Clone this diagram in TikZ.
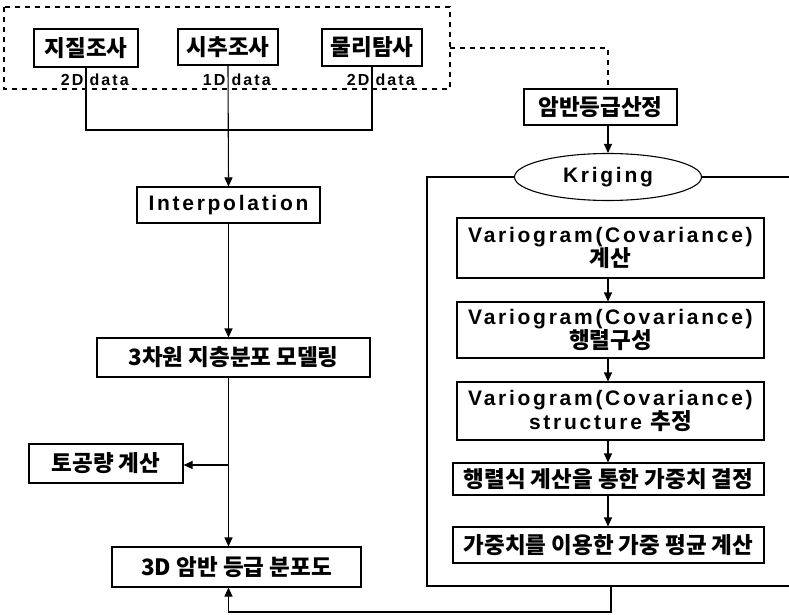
\documentclass[tikz,border=0pt]{standalone}
\usepackage{fontspec}
\setmainfont{Liberation Sans}[LetterSpace=13]
\newfontfamily\kr{Noto Sans CJK KR}
\newcommand\K[1]{{\kr\fontsize{22.5}{23}\selectfont #1}}
\usetikzlibrary{shapes.geometric,arrows.meta}
\begin{document}
\begin{tikzpicture}[x=1pt,y=-1pt,
  line width=1.1pt,
  box/.style={draw, rectangle, inner sep=0pt, align=center, font=\bfseries\fontsize{21}{23}\selectfont},
  small/.style={inner sep=0pt, font=\bfseries\fontsize{16}{18}\selectfont},
  arr/.style={-{Triangle[length=9pt,width=8pt]}},
  dashline/.style={line width=1.7pt, dash pattern=on 5pt off 5pt}]
\useasboundingbox (0,0) rectangle (789,615);

% top group
\draw[dashline] (4,7) rectangle (450,89);
\node[box, minimum width=104pt, minimum height=38pt] (jj) at (86,48) {\K{지질조사}};
\node[box, minimum width=100pt, minimum height=36pt] (sc) at (228,47) {\K{시추조사}};
\node[box, minimum width=100pt, minimum height=37pt] (mr) at (372,47.5) {\K{물리탐사}};
\node[small, anchor=east] (l1a) at (84,80) {2D};
\node[small, anchor=west] (l1b) at (89,80) {data};
\node[small, anchor=east] (l2a) at (226,80) {1D};
\node[small, anchor=west] (l2b) at (231,80) {data};
\node[small, anchor=east] (l3a) at (370,80) {2D};
\node[small, anchor=west] (l3b) at (375,80) {data};

% left column
\node[box, minimum width=183pt, minimum height=36pt] (ip) at (228.5,205) {Interpolation};
\node[box, minimum width=273pt, minimum height=39pt] (m3) at (233.5,357.5) {\K{3차원 지층분포 모델링}};
\node[box, minimum width=154pt, minimum height=39pt] (tg) at (106,463.5) {\K{토공량 계산}};
\node[box, minimum width=249pt, minimum height=40pt] (d3) at (236.5,567) {\K{3D 암반 등급 분포도}};

\coordinate (join) at (228,130);
\draw (jj.south) |- (join);
\draw (mr.south) |- (join);
\draw[arr] (sc.south) -- (ip.north);
\draw[arr] (ip.south) -- (ip.south |- m3.north);
\draw[arr] (m3.south -| ip.south) -- (d3.north -| ip.south);
\coordinate (br) at (228,465);
\draw[arr] (br) -- (br -| tg.east);

% right column
\node[box, minimum width=153pt, minimum height=36pt] (am) at (600.5,107) {\K{암반등급산정}};
\node[draw, ellipse, inner sep=0pt, minimum width=187pt, minimum height=47pt, font=\bfseries\fontsize{21}{24}\selectfont] (kr) at (608,177) {Kriging};
\draw[dashline] (450,48) -| (kr.north |- am.north);
\draw[arr] (kr.north |- am.south) -- (kr.north);

\coordinate (tl) at (427,177);
\coordinate (bl) at (427,586);
\coordinate (br2) at (800,586);
\coordinate (tr) at (800,177);
\draw (kr.west) -- (tl) -- (bl) -- (br2);
\draw (kr.east) -- (tr);

\node[box, minimum width=307pt, minimum height=60pt] (v1) at (610.5,248) {Variogram(Covariance)\\\K{계산}};
\node[box, minimum width=307pt, minimum height=56pt] (v2) at (610.5,330) {Variogram(Covariance)\\\K{행렬구성}};
\node[box, minimum width=307pt, minimum height=58pt] (v3) at (610.5,411) {Variogram(Covariance)\\structure \K{추정}};
\node[box, minimum width=311pt, minimum height=32pt] (v4) at (608.5,479) {\K{행렬식 계산을 통한 가중치 결정}};
\node[box, minimum width=311pt, minimum height=36pt] (v5) at (608.5,545) {\K{가중치를 이용한 가중 평균 계산}};
\draw[arr] (v1.south -| kr.south) -- (v2.north -| kr.south);
\draw[arr] (v2.south -| kr.south) -- (v3.north -| kr.south);
\draw[arr] (v3.south -| kr.south) -- (v4.north -| kr.south);
\draw[arr] (v4.south -| kr.south) -- (v5.north -| kr.south);

\coordinate (lp1) at (611,586);
\coordinate (lp2) at (611,612);
\draw[arr] (lp1) -- (lp2) -| (d3.south -| ip.south);
\end{tikzpicture}
\end{document}
